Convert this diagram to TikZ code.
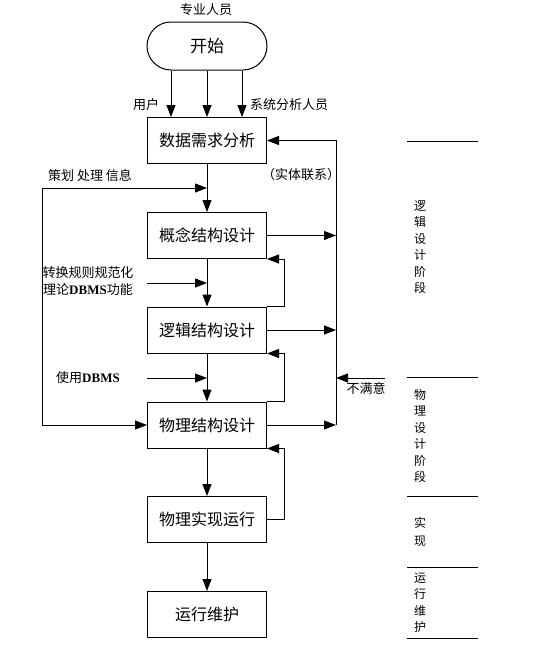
\documentclass[tikz,border=0pt]{standalone}
\usepackage{fontspec}
\setmainfont{Liberation Serif}
\newfontfamily\cjk{Noto Sans CJK SC}
\usetikzlibrary{arrows.meta}
\begin{document}
\begin{tikzpicture}[x=1pt,y=-1pt,
  box/.style={draw, line width=1pt, minimum width=119pt, minimum height=46pt, inner sep=0pt, font=\cjk\fontsize{16}{16}\selectfont},
  arr/.style={line width=1pt, -{Triangle[length=12pt,width=9pt]}},
  ln/.style={line width=1pt},
  lbl/.style={font=\cjk\fontsize{13}{13}\selectfont, inner sep=0pt},
  stage/.style={font=\cjk\fontsize{12}{16.5}\selectfont, align=center, inner sep=0pt},
  rulel/.style={line width=1pt}]
\useasboundingbox (0,0) rectangle (536,646);
% main nodes
\node[box, rounded corners=24pt, minimum width=120pt, minimum height=48pt, font=\cjk\fontsize{17}{17}\selectfont] (start) at (207,46) {开始};
\node[box] (b1) at (207,140.5) {数据需求分析};
\node[box] (b2) at (207,235.5) {概念结构设计};
\node[box] (b3) at (207,330) {逻辑结构设计};
\node[box] (b4) at (207,425) {物理结构设计};
\node[box] (b5) at (207,519.5) {物理实现运行};
\node[box] (b6) at (207,614.5) {运行维护};
% labels
\node[lbl] (l0) at (206,10) {专业人员};
\node[lbl] (l1) at (146,105) {用户};
\node[lbl] (l2) at (289,105) {系统分析人员};
\node[lbl] (l3) at (301,175) {（实体联系）};
\node[lbl] (l4) at (90,176) {策划 处理 信息};
\node[lbl] (l5) at (88,273) {转换规则规范化};
\node[lbl] (l6) at (88,290) {理论{\rmfamily\bfseries DBMS}功能};
\node[lbl] (l7) at (88,378) {使用{\rmfamily\bfseries DBMS}};
\node[lbl] (l8) at (366,388) {不满意};
% start arrows
\draw[arr] ([xshift=-36pt]start.south) -- ([xshift=-36pt]b1.north);
\draw[arr] (start.south) -- (b1.north);
\draw[arr] ([xshift=35pt]start.south) -- ([xshift=35pt]b1.north);
% main flow
\draw[arr] (b1) -- (b2);
\draw[arr] (b2) -- (b3);
\draw[arr] (b3) -- (b4);
\draw[arr] (b4) -- (b5);
\draw[arr] (b5) -- (b6);
% right feedback
\coordinate (R1) at (336,140.5);
\coordinate (R4) at (336,425);
\draw[arr] (b2.east) -- (b2.east -| R1);
\draw[arr] (b3.east) -- (b3.east -| R1);
\draw[arr] (b4.east) -- (R4);
\draw[arr] (R4) -- (R1) -- (b1.east);
\coordinate (ns) at (385,378);
\draw[arr] (ns) -- (ns -| R1);
% left inputs
\coordinate (L1) at (42,188);
\draw[arr] (L1) -- (L1 -| b1.south);
\draw[arr] (L1) -- (L1 |- b4.west) -- (b4.west);
\coordinate (in2) at (147,283);
\draw[arr] (in2) -- (in2 -| b2.south);
\coordinate (in3) at (147,378);
\draw[arr] (in3) -- (in3 -| b3.south);
% loops
\draw[arr] (b3.north east) -- ++(17,0) |- (b2.south east);
\draw[arr] (b4.north east) -- ++(17,0) |- (b3.south east);
\draw[arr] (b5.east) -- ++(17,0) |- (b4.south east);
% stage column
\foreach \yy in {141,377,496,567,638} {\draw[rulel] (407,\yy) -- (478,\yy);}
\node[stage] (s1) at (420,247) {逻\\辑\\设\\计\\阶\\段};
\node[stage] (s2) at (420,436) {物\\理\\设\\计\\阶\\段};
\node[stage, font=\cjk\fontsize{12}{18}\selectfont] (s3) at (420,531.5) {实\\现};
\node[stage] (s4) at (420,603) {运\\行\\维\\护};
\end{tikzpicture}
\end{document}
